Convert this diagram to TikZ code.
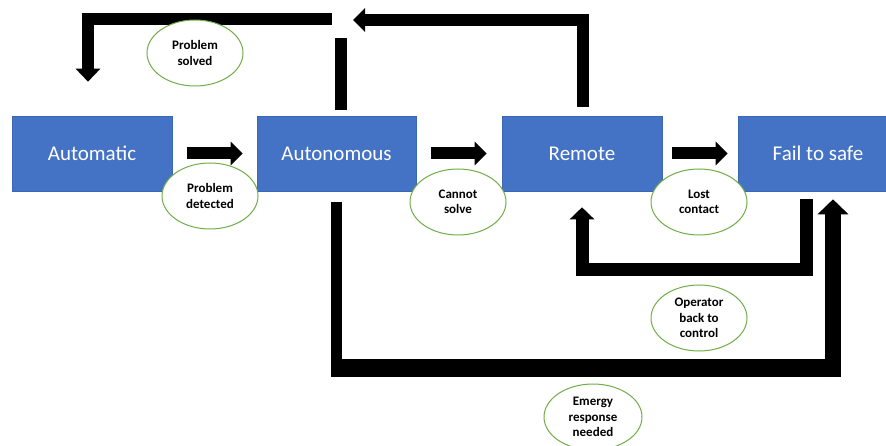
\documentclass[tikz,border=0pt]{standalone}
\usepackage{fontspec}
\setmainfont{Carlito}
\usetikzlibrary{arrows.meta,shapes.geometric,calc}
\definecolor{boxblue}{HTML}{4472C4}
\definecolor{boxedge}{HTML}{3A66B5}
\definecolor{lblgreen}{HTML}{70AD47}
\tikzset{
  statebox/.style={rectangle, fill=boxblue, draw=boxedge, line width=0.6pt,
    minimum width=160pt, minimum height=75pt, inner sep=0pt,
    text=white, font=\fontsize{21}{25}\selectfont},
  lbl/.style={ellipse, fill=white, draw=lblgreen, line width=1pt,
    minimum width=96pt, minimum height=66pt, inner sep=0pt, align=center,
    font=\bfseries\fontsize{13}{15.5}\selectfont},
  bar/.style={draw=black, line width=12pt},
  blockarrow/.style={draw=black, line width=12pt, -{Triangle[width=23pt,length=12pt]}},
}
\begin{document}
\begin{tikzpicture}[x=1pt,y=-1pt]
\useasboundingbox (0,0) rectangle (886,446);
\clip (0,0) rectangle (886,446);
% state boxes
\node[statebox] (automatic) at (92,153.5) {Automatic};
\node[statebox, minimum width=159pt] (autonomous) at (336.5,153.5) {Autonomous};
\node[statebox] (remote) at (582,153.5) {Remote};
\node[statebox] (fail) at (818,153.5) {Fail to safe};
% forward arrows
\draw[blockarrow] ([xshift=15]automatic.east) -- ([xshift=-14]autonomous.west);
\draw[blockarrow] ([xshift=15]autonomous.east) -- ([xshift=-15]remote.west);
\draw[blockarrow] ([xshift=10]remote.east) -- ([xshift=-10]fail.west);
% top connectors
\coordinate (topgap) at (353,20);
\coordinate (topleft) at (332,19);
\draw[blockarrow] ([xshift=1,yshift=9]remote.north) |- (topgap);
\draw[bar] ([xshift=4.5,yshift=6]autonomous.north) -- ++(0,-72);
\draw[blockarrow, -{Triangle[width=24pt,length=13pt]}] (topleft) -| ([xshift=-4,yshift=34]automatic.north);
% fail to safe back to remote
\draw[blockarrow, line width=13pt, -{Triangle[width=24pt,length=12pt]}]
  ([xshift=-12,yshift=-8]fail.south) -- ++(0,70.5) -| ([yshift=-16]remote.south);
% autonomous to fail to safe (emergency)
\coordinate (ecorner1) at (336.5,368);
\coordinate (ecorner2) at (833,368);
\draw[bar, line width=11pt] ([yshift=-11]autonomous.south) -- ([yshift=-9]ecorner1);
\draw[bar, line width=18pt] ([xshift=-5.5]ecorner1) -- ([xshift=8]ecorner2);
\draw[blockarrow, line width=16pt, -{Triangle[width=30pt,length=15pt]}]
  ([yshift=-9]ecorner2) -- ([xshift=15,yshift=-8]fail.south);
% labels
\node[lbl] (pd) at (210,196) {Problem\\detected};
\node[lbl] (ps) at (195,53) {Problem\\solved};
\node[lbl] (cs) at (458,202) {Cannot\\solve};
\node[lbl] (lc) at (699,202) {Lost\\contact};
\node[lbl] (op) at (699,318) {Operator\\back to\\control};
\node[lbl, minimum width=98pt] (er) at (593,417) {Emergy\\response\\needed};
\end{tikzpicture}
\end{document}
